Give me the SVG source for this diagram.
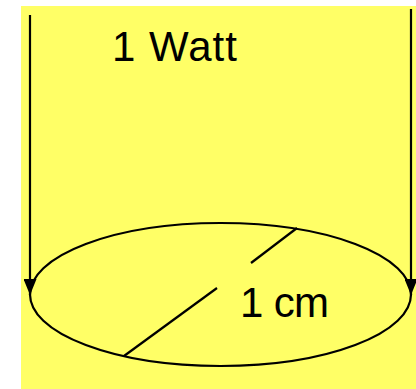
<svg xmlns="http://www.w3.org/2000/svg" width="416" height="389" viewBox="0 0 416 389">
<style>
.ln{stroke:#000;stroke-width:2.2;fill:none}
.lbl{font-family:"Liberation Sans",Arial,sans-serif;font-size:42px;fill:#000}
</style>
<defs>
<marker id="ah" viewBox="0 0 16 13" refX="16" refY="6.5" markerWidth="16" markerHeight="13" markerUnits="userSpaceOnUse" orient="auto">
<path d="M0,0 L16,6.5 L0,13 Z" fill="#000"/>
</marker>
</defs>
<rect x="21" y="6" width="395" height="383" fill="#FFFF66"/>
<g id="disk">
<ellipse cx="220.5" cy="294.5" rx="190.5" ry="71.5" class="ln"/>
</g>
<g id="diameter">
<line x1="297" y1="228" x2="251" y2="263" class="ln" stroke-width="1.6"/>
<line x1="217" y1="288" x2="124" y2="356" class="ln" stroke-width="1.6"/>
</g>
<g id="connectors">
<line x1="30" y1="15" x2="30" y2="295" class="ln" marker-end="url(#ah)"/>
<line x1="411" y1="9" x2="411" y2="295" class="ln" marker-end="url(#ah)"/>
</g>
<g id="labels">
<text x="112" y="61" class="lbl" textLength="125">1 Watt</text>
<text x="240" y="317" class="lbl" textLength="89">1 cm</text>
</g>
</svg>
